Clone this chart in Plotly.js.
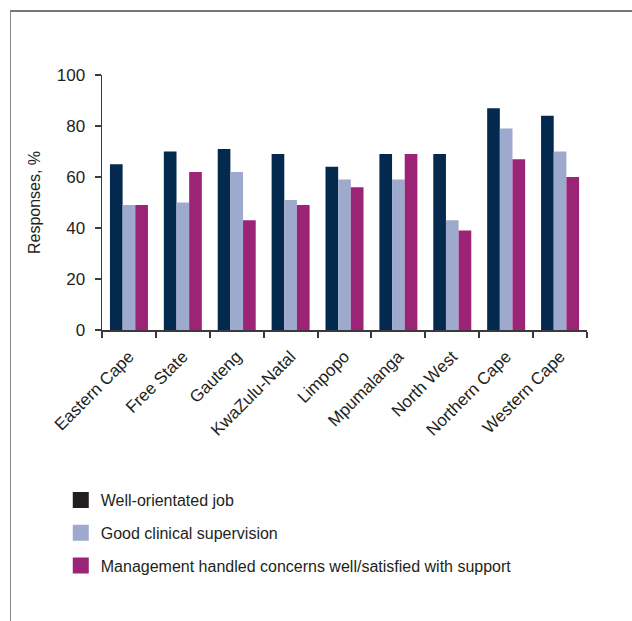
<!DOCTYPE html>
<html>
<head>
<meta charset="utf-8">
<script src="https://cdn.plot.ly/plotly-3.0.1.min.js"></script>
<style>
  html, body { margin: 0; padding: 0; background: #fff; }
  #wrap { position: relative; width: 632px; height: 621px; }
  #frame { position: absolute; left: 10px; top: 10px; right: 0; bottom: 0;
           border-left: 1px solid #8a8a8a; border-top: 2px solid #777; pointer-events: none; }
  #chart { position: absolute; left: 0; top: 0; width: 632px; height: 621px; }
</style>
</head>
<body>
<div id="wrap">
  <div id="chart"></div>
  <div id="frame"></div>
</div>
<script>
const provinces = ["Eastern Cape", "Free State", "Gauteng", "KwaZulu-Natal", "Limpopo",
                   "Mpumalanga", "North West", "Northern Cape", "Western Cape"];
const wellOrientated = [65, 70, 71, 69, 64, 69, 69, 87, 84];
const clinicalSupervision = [49, 50, 62, 51, 59, 59, 43, 79, 70];
const managementSupport = [49, 62, 43, 49, 56, 69, 39, 67, 60];
const seriesNames = ["Well-orientated job", "Good clinical supervision",
                     "Management handled concerns well/satisfied with support"];
const yTicks = [0, 20, 40, 60, 80, 100];

const barColors = ["#04294e", "#9eaacd", "#9b2477"];
const legendColors = ["#231f20", "#9eaacd", "#9b2477"];
const seriesValues = [wellOrientated, clinicalSupervision, managementSupport];

const font = "Liberation Sans, Arial, sans-serif";
const textColor = "#231f20";

const traces = [];
seriesValues.forEach((vals, i) => {
  traces.push({
    type: "bar", x: provinces, y: vals, name: seriesNames[i],
    marker: { color: barColors[i], line: { width: 0 } },
    showlegend: false, hoverinfo: "x+y"
  });
});
seriesValues.forEach((vals, i) => {
  traces.push({
    type: "scatter", mode: "markers", x: [null], y: [null], name: seriesNames[i],
    marker: { symbol: "square", size: 16, color: legendColors[i] },
    legendgroup: "g" + i, showlegend: true, hoverinfo: "skip"
  });
});

const layout = {
  width: 632, height: 621,
  margin: { l: 102, r: 45, t: 75, b: 291, pad: 0 },
  paper_bgcolor: "rgba(0,0,0,0)", plot_bgcolor: "rgba(0,0,0,0)",
  font: { family: font, size: 16, color: textColor },
  barmode: "group", bargap: 0.295, bargroupgap: 0,
  xaxis: {
    type: "category", categoryorder: "array", categoryarray: provinces,
    showline: true, linecolor: "#3a3a3a", linewidth: 2,
    ticks: "outside", tickson: "boundaries", ticklen: 6, tickcolor: "#3a3a3a", tickwidth: 2,
    ticklabelstandoff: 8,
    tickangle: -45, tickfont: { family: font, size: 17, color: textColor },
    showgrid: false, zeroline: false, fixedrange: true
  },
  yaxis: {
    range: [0, 100], tickvals: yTicks, ticktext: yTicks.map(String),
    showline: true, linecolor: "#3a3a3a", linewidth: 1.5,
    ticks: "outside", ticklen: 6, tickcolor: "#3a3a3a", tickwidth: 1.5,
    ticklabelstandoff: 6,
    tickfont: { family: font, size: 17, color: textColor },
    showgrid: false, zeroline: false, fixedrange: true,
    title: { text: "Responses, %", font: { family: font, size: 16, color: textColor }, standoff: 12 }
  },
  showlegend: true,
  legend: {
    x: -0.085, xanchor: "left", y: -0.6, yanchor: "top",
    traceorder: "grouped", tracegroupgap: 9,
    font: { family: font, size: 16, color: textColor },
    bgcolor: "rgba(0,0,0,0)"
  }
};

Plotly.newPlot("chart", traces, layout, { staticPlot: true, displayModeBar: false });
</script>
</body>
</html>
